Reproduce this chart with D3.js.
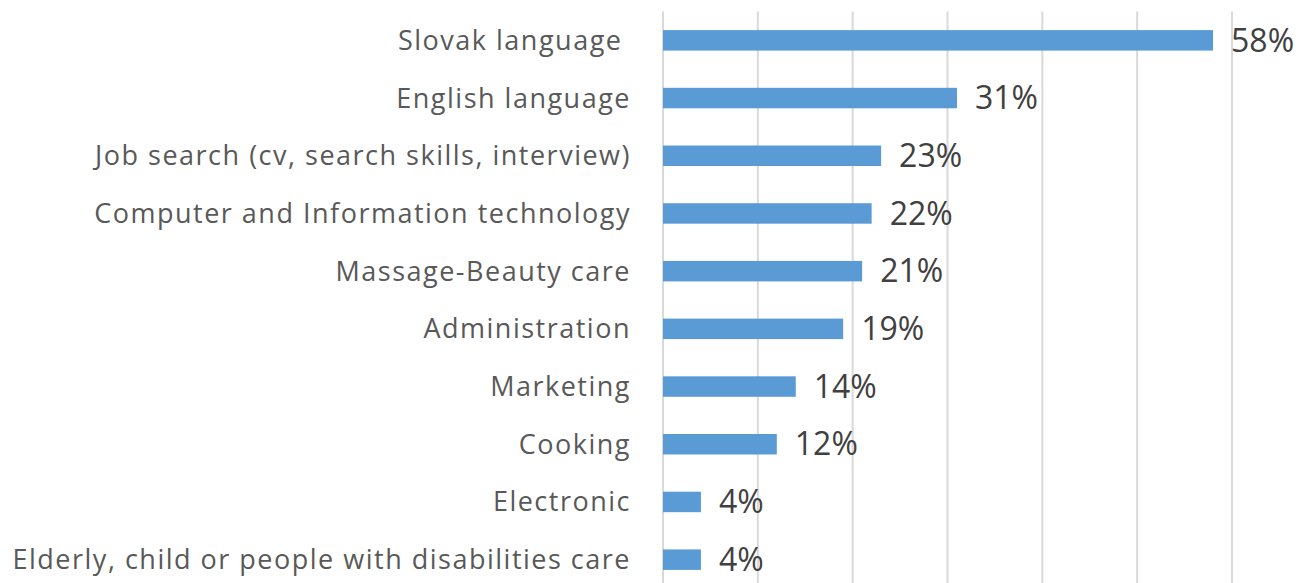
<!DOCTYPE html>
<html lang="en">
<head>
<meta charset="UTF-8">
<title>Training interest</title>
<script src="https://d3js.org/d3.v7.min.js"></script>
<style>
  body { margin: 0; background: #fff; }
  svg { display: block; }
  .cat { white-space: pre; }
</style>
</head>
<body>
<svg id="chart" width="1316" height="583"></svg>
<script>
(function () {
  'use strict';

  // data
  const categories = [
    "Slovak language ",
    "English language",
    "Job search (cv, search skills, interview)",
    "Computer and Information technology",
    "Massage-Beauty care",
    "Administration",
    "Marketing",
    "Cooking",
    "Electronic",
    "Elderly, child or people with disabilities care"
  ];
  const shares = [58, 31, 23, 22, 21, 19, 14, 12, 4, 4];
  const gridTicks = [0, 10, 20, 30, 40, 50, 60];

  const height = 583;
  const left = 663, right = 1232;
  const top = 11.5, bottom = 588.5;

  const svg = d3.select('#chart');

  const x = d3.scaleLinear().domain([0, 60]).range([left, right]);
  const y = d3.scaleBand().domain(categories).range([top, bottom]).paddingInner(0.645).paddingOuter(0.3225);

  // vertical gridlines
  svg.append('g')
    .selectAll('line')
    .data(gridTicks)
    .join('line')
    .attr('x1', d => x(d)).attr('x2', d => x(d))
    .attr('y1', top).attr('y2', height)
    .attr('stroke', '#d9d9d9')
    .attr('stroke-width', 2);

  const rows = categories.map((c, i) => ({ name: c, value: shares[i] }));

  svg.append('g')
    .selectAll('rect')
    .data(rows)
    .join('rect')
    .attr('x', x(0))
    .attr('y', d => y(d.name))
    .attr('width', d => x(d.value) - x(0))
    .attr('height', y.bandwidth())
    .attr('fill', '#5b9bd5');

  // category labels
  svg.append('g')
    .selectAll('text')
    .data(rows)
    .join('text')
    .attr('class', 'cat')
    .attr('x', 631)
    .attr('y', d => y(d.name) + y.bandwidth() / 2)
    .attr('dy', '0.35em')
    .attr('text-anchor', 'end')
    .attr('fill', '#595959')
    .style('font', '27px "Open Sans", sans-serif')
    .style('letter-spacing', '1.5px')
    .text(d => d.name);

  // value labels
  svg.append('g')
    .selectAll('text')
    .data(rows)
    .join('text')
    .attr('x', d => x(d.value) + 18)
    .attr('y', d => y(d.name) + y.bandwidth() / 2)
    .attr('dy', '0.35em')
    .attr('fill', '#404040')
    .style('font', '32px "Open Sans", sans-serif')
    .text(d => d.value + '%');
}());
</script>
</body>
</html>
